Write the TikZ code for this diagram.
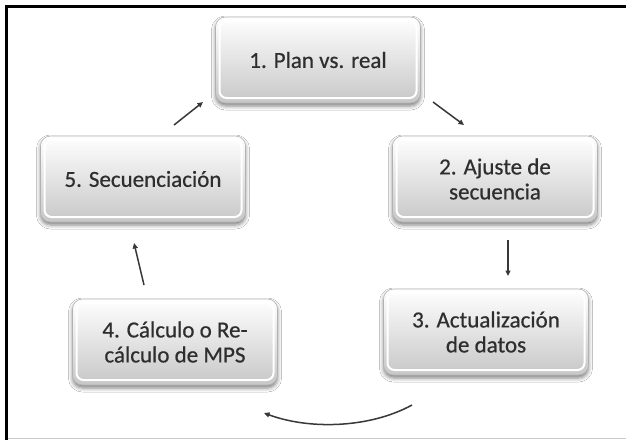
\documentclass[tikz,border=0pt]{standalone}
\usepackage{fontspec}
\setmainfont{Carlito}[FakeBold=0.6]
\usetikzlibrary{shadows.blur,arrows.meta}
\begin{document}
\begin{tikzpicture}[x=1pt,y=-1pt,
  box/.style={rectangle, rounded corners=10pt, minimum width=205pt, minimum height=86pt,
    top color=white, bottom color=black!22, draw=black!30, line width=0.6pt,
    blur shadow={shadow xshift=0pt, shadow yshift=-3pt, shadow blur radius=4pt, shadow opacity=50},
    path picture={\draw[white, line width=2pt, rounded corners=7pt]
      ([shift={(4pt,5pt)}]path picture bounding box.south west) rectangle
      ([shift={(-4pt,-4pt)}]path picture bounding box.north east);},
    font=\fontsize{23}{25}\selectfont, text=black!82, align=center},
  arr/.style={draw=black!78, line width=1.5pt, -{Triangle[length=5.5pt,width=5pt]}}]
\useasboundingbox (0,0) rectangle (626,440);
\fill[white] (0,0) rectangle (626,440);
\draw[black!20, line width=0.8pt] (8,438.5) -- (626,438.5);
\draw[black, line width=3.5pt] (6.5,440) -- (6.5,6.5) -- (626,6.5);

\node[box] (b1) at (318,60) {1. Plan vs. real};
\node[box] (b2) at (495,179) {2. Ajuste de\\secuencia};
\node[box] (b3) at (486,332) {3. Actualización\\de datos};
\node[box] (b4) at (175,342) {4. Cálculo o Re-\\cálculo de MPS};
\node[box] (b5) at (143,179) {5. Secuenciación};

\coordinate (p1) at (174,125); \coordinate (p2) at (203,102);
\coordinate (q1) at (433,102); \coordinate (q2) at (464,125);
\coordinate (r1) at (508,240); \coordinate (r2) at (508,276);
\coordinate (s1) at (412,405); \coordinate (s2) at (264,413);
\coordinate (t1) at (144,285); \coordinate (t2) at (134,243);

\draw[arr] (p1) -- (p2);
\draw[arr] (q1) -- (q2);
\draw[arr] (r1) -- (r2);
\draw[arr] (s1) .. controls (370,428) and (310,430) .. (s2);
\draw[arr] (t1) -- (t2);
\end{tikzpicture}
\end{document}
